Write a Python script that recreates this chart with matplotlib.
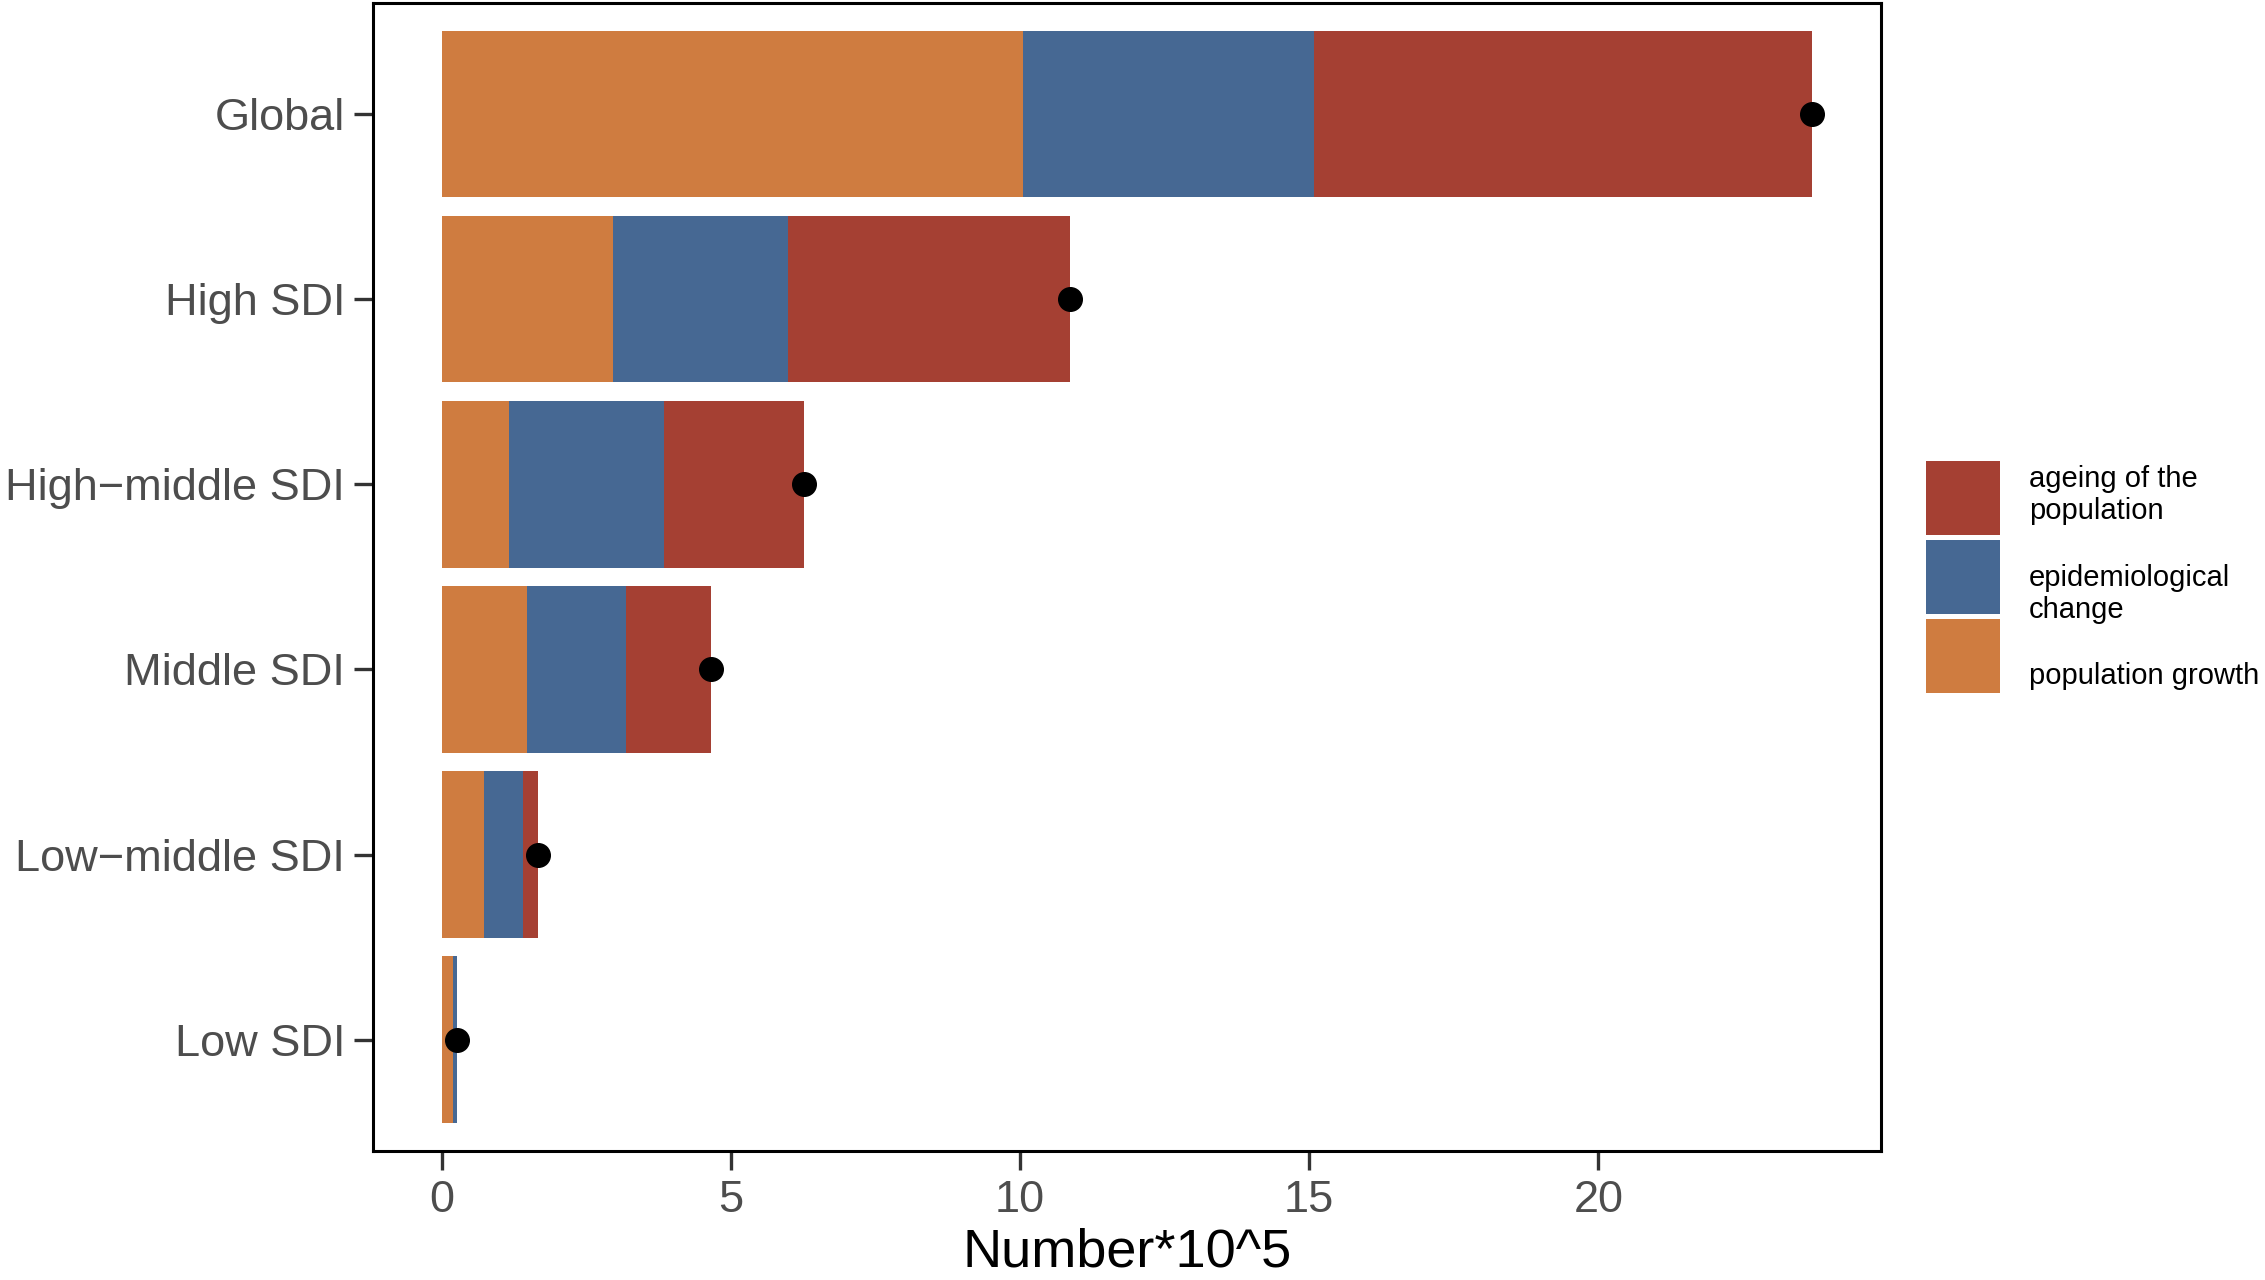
import matplotlib
matplotlib.use("Agg")
import matplotlib.pyplot as plt
import numpy as np

plt.rcParams['font.family'] = ['Liberation Sans', 'DejaVu Sans']

# dados (Number*10^5)
regioes = ["Global", "High SDI", "High\u2212middle SDI", "Middle SDI",
           "Low\u2212middle SDI", "Low SDI"]
crescimento = [10.06, 2.97, 1.17, 1.47, 0.74, 0.19]
epidemiologico = [5.02, 3.02, 2.68, 1.72, 0.66, 0.07]
envelhecimento = [8.62, 4.87, 2.42, 1.47, 0.26, 0.00]

rotulos = ["population growth", "epidemiological\nchange", "ageing of the\npopulation"]
cores = ["#CF7C40", "#466893", "#A54033"]

crescimento = np.array(crescimento)
epidemiologico = np.array(epidemiologico)
envelhecimento = np.array(envelhecimento)
total = crescimento + epidemiologico + envelhecimento

fig = plt.figure(figsize=(22.65, 12.8), dpi=100)
ax = fig.add_axes([0.1647, 0.101, 0.8304 - 0.1647, 0.9977 - 0.101])

y = np.arange(len(regioes))
barras = []
esquerda = np.zeros(len(regioes))
for valores, cor, rot in zip([crescimento, epidemiologico, envelhecimento], cores, rotulos):
    b = ax.barh(y, valores, left=esquerda, height=0.9, color=cor, label=rot, linewidth=0)
    barras.append(b)
    esquerda = esquerda + valores

ax.plot(total, y, 'o', color='black', markersize=17, zorder=5)

ax.set_ylim(len(regioes) - 0.4, -0.6)
ax.set_xlim(-1.185, 24.885)
ax.set_yticks(y)
ax.set_yticklabels(regioes)
ax.set_xticks([0, 5, 10, 15, 20])

for s in ax.spines.values():
    s.set_linewidth(2.2)
    s.set_color('black')

ax.tick_params(axis='both', labelsize=32.5, labelcolor='#4D4D4D', color='#333333',
               width=2.4, length=14)
ax.tick_params(axis='x', pad=7)
ax.tick_params(axis='y', pad=6)
ax.set_xlabel("Number*10^5", fontsize=39, color='black', labelpad=5)

# legenda na ordem inversa
handles = barras[::-1]
labels = rotulos[::-1]
leg = fig.legend(handles, labels, loc='upper left', bbox_to_anchor=(0.8503, 0.6398),
                 frameon=False, fontsize=21, handlelength=2.53, handleheight=3.52,
                 labelspacing=0.17, handletextpad=1.0, borderpad=0, borderaxespad=0)

# baixar um pouco o texto das duas ultimas entradas (como no original)
for t in leg.get_texts()[1:]:
    t.set_y(-20)

fig.savefig("out.png", dpi=100)
